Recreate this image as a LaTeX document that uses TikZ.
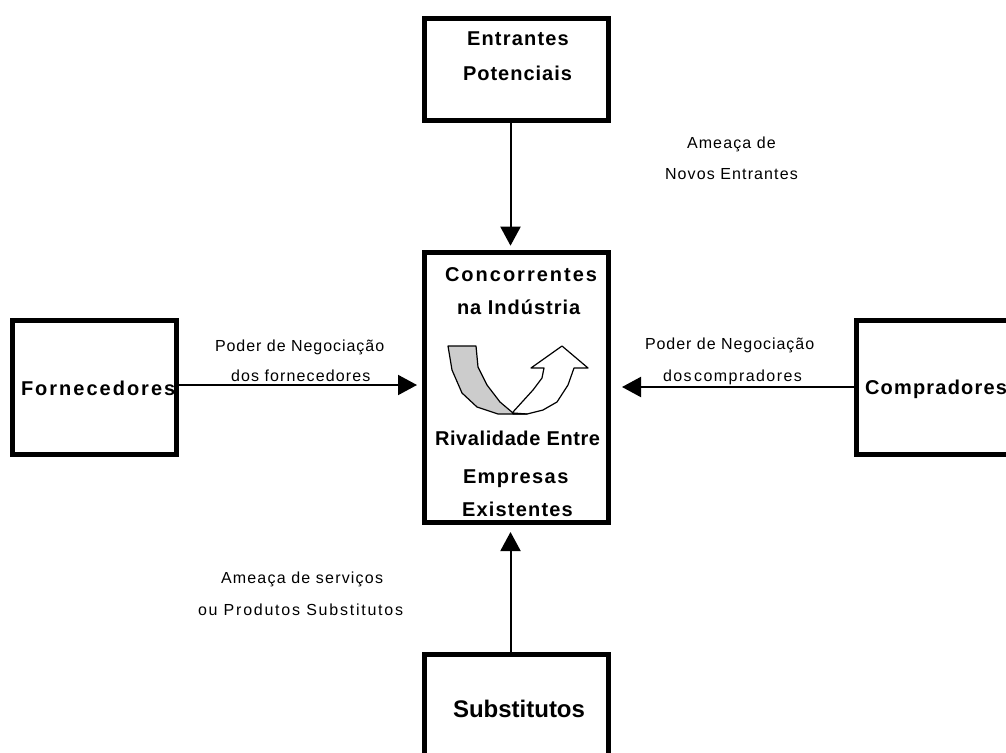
\documentclass[tikz,border=0pt]{standalone}
\usepackage{fontspec}
\setmainfont{Liberation Sans}
\usetikzlibrary{arrows.meta}
\tikzset{
  bx/.style={draw=black,line width=5pt,fill=white,inner sep=0pt,anchor=north west},
  big/.style={font=\fontsize{20}{24}\selectfont\bfseries\addfontfeatures{LetterSpace=#1},inner sep=0pt,outer sep=0pt,anchor=base west},
  lab/.style={font=\fontsize{16}{20}\selectfont\addfontfeatures{LetterSpace=#1},inner sep=0pt,outer sep=0pt,anchor=base west},
  con/.style={draw=black,line width=2pt,-{Triangle[length=19pt,width=20pt]}},
  fig/.style={draw=black,line width=1.2pt,line join=round},
}
\begin{document}
\begin{tikzpicture}[x=1pt,y=-1pt]
\useasboundingbox[clip] (0,0) rectangle (1006,752);
\node[bx,minimum width=184pt,minimum height=102pt] (ent) at (422,16) {};
\node[bx,minimum width=184pt,minimum height=270pt] (con) at (422,250) {};
\node[bx,minimum width=164pt,minimum height=134pt] (for) at (10,318) {};
\node[bx,minimum width=180pt,minimum height=134pt] (com) at (854,318) {};
\node[bx,minimum width=184pt,minimum height=133pt] (sub) at (422,652) {};
\coordinate (xa) at (510.5,0);
\coordinate (yl) at (0,385);
\coordinate (yr) at (0,387);
\draw[con,shorten >=4.3pt] (ent.south -| xa) -- (con.north -| xa);
\draw[con,shorten >=7pt] (sub.north -| xa) -- (con.south -| xa);
\draw[con,shorten >=5pt] (for.east |- yl) -- (con.west |- yl);
\draw[con,shorten >=11pt] (com.west |- yr) -- (con.east |- yr);
\node[big=6] (t1) at (467,45.7) {Entrantes};
\node[big=5] (t2) at (463,80) {Potenciais};
\node[big=10] (t3) at (445,281) {Concorrentes};
\node[big=5] (t4) at (457,314) {na Indústria};
\node[big=3] (t5) at (435,445) {Rivalidade Entre};
\node[big=7] (t6) at (463,483) {Empresas};
\node[big=6] (t7) at (462,516) {Existentes};
\node[big=10] (t8) at (21,395) {Fornecedores};
\node[big=6] (t9) at (865,394) {Compradores};
\node[big=0,font=\fontsize{24}{28}\selectfont\bfseries] (t10) at (453,717) {Substitutos};
\node[lab=7] (l1) at (687,148) {Ameaça de};
\node[lab=7] (l2) at (665,179) {Novos Entrantes};
\node[lab=6] (l3) at (215,351) {Poder de Negociação};
\node[lab=7] (l4) at (231,381) {dos fornecedores};
\node[lab=6] (l5) at (645,349) {Poder de Negociação};
\node[lab=9] (l6) at (663,381) {dos\hspace{2.5pt}compradores};
\node[lab=7.5] (l7) at (221,583) {Ameaça de serviços};
\node[lab=11] (l8) at (198,615) {ou Produtos Substitutos};
% curved arrow
\draw[fig,fill=white]
  (513,412) -- (533,390) -- (542,378) -- (544,368) -- (531,368) -- (562,346) -- (588,368) -- (574,368)
  -- (568,385) -- (557,402) -- (543,410) -- (527,414) -- (513,414) -- cycle;
\draw[fig,fill=black!20]
  (448,346) -- (476,346) -- (478,367) -- (487,385) -- (500,402) -- (513,413) -- (527,414)
  -- (498,414) -- (477,407) -- (462,393) -- (452,370) -- cycle;
\end{tikzpicture}
\end{document}
